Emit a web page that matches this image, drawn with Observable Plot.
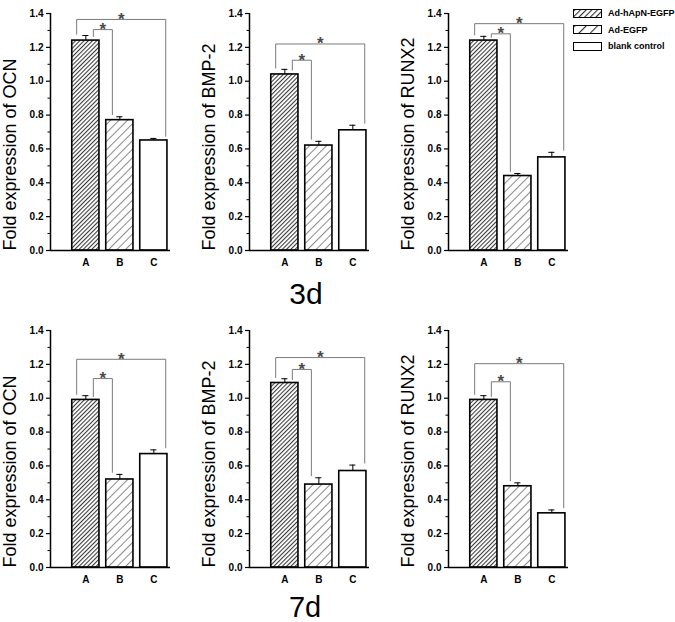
<!DOCTYPE html>
<html>
<head>
<meta charset="utf-8">
<script src="https://cdn.jsdelivr.net/npm/d3@7"></script>
<script src="https://cdn.jsdelivr.net/npm/@observablehq/plot@0.6"></script>
<style>
  html, body { margin: 0; padding: 0; background: white; }
  #wrap { position: relative; width: 675px; height: 622px; font-family: 'Liberation Sans', Arial, sans-serif; }
  #legend { position: absolute; left: 573px; top: 8px; font-size: 9px; font-weight: bold; color: #000; }
  .row { display: flex; align-items: center; height: 10px; margin-bottom: 6.5px; }
  .sw { width: 27px; height: 7px; border: 1.5px solid #000; margin-right: 6px; background: white; }
</style>
</head>
<body>
<svg width="0" height="0" style="position:absolute">
  <defs>
    <pattern id="hatchDense" patternUnits="userSpaceOnUse" width="3" height="3" patternTransform="rotate(45)">
      <rect width="3" height="3" fill="white"/>
      <line x1="0.5" y1="0" x2="0.5" y2="3" stroke="#3a3a3a" stroke-width="1.15"/>
    </pattern>
    <pattern id="hatchSparse" patternUnits="userSpaceOnUse" width="6" height="6" patternTransform="rotate(45)">
      <rect width="6" height="6" fill="white"/>
      <line x1="0.5" y1="0" x2="0.5" y2="6" stroke="#8a8a8a" stroke-width="1"/>
    </pattern>
    <pattern id="legDense" patternUnits="userSpaceOnUse" width="4" height="4" patternTransform="rotate(45)">
      <rect width="4" height="4" fill="white"/>
      <line x1="0.5" y1="0" x2="0.5" y2="4" stroke="#333" stroke-width="1.2"/>
    </pattern>
    <pattern id="legSparse" patternUnits="userSpaceOnUse" width="8" height="8" patternTransform="rotate(45)">
      <rect width="8" height="8" fill="white"/>
      <line x1="0.5" y1="0" x2="0.5" y2="8" stroke="#333" stroke-width="1.2"/>
    </pattern>
  </defs>
</svg>
<div id="wrap">
  <div id="chart"></div>
  <div id="legend"></div>
</div>
<script>
// ---- data ----
const genes = ["OCN", "BMP-2", "RUNX2"];
const days = ["3d", "7d"];
const groups = ["A", "B", "C"];
const legendLabels = ["Ad-hApN-EGFP", "Ad-EGFP", "blank control"];

const ocn3d = [1.24, 0.77, 0.65];
const bmp3d = [1.04, 0.62, 0.71];
const runx3d = [1.24, 0.44, 0.55];
const ocn7d = [0.99, 0.52, 0.67];
const bmp7d = [1.09, 0.49, 0.57];
const runx7d = [0.99, 0.48, 0.32];

const ocn3dErr = [0.03, 0.02, 0.012];
const bmp3dErr = [0.03, 0.025, 0.03];
const runx3dErr = [0.025, 0.015, 0.03];
const ocn7dErr = [0.025, 0.03, 0.025];
const bmp7dErr = [0.025, 0.04, 0.035];
const runx7dErr = [0.025, 0.02, 0.02];

// bracket heights (outer A–C, inner A–B) per gene
const outerLevel3d = [1.365, 1.22, 1.34];
const innerLevel3d = [1.305, 1.124, 1.28];
const outerLevel7d = [1.23, 1.24, 1.204];
const innerLevel7d = [1.116, 1.17, 1.097];

const yMajor = [0, 0.2, 0.4, 0.6, 0.8, 1.0, 1.2, 1.4];
const yMinor = [0.1, 0.3, 0.5, 0.7, 0.9, 1.1, 1.3];

// ---- styling constants ----
const barFills = ["url(#hatchDense)", "url(#hatchSparse)", "white"];
const legendFills = ["url(#legDense)", "url(#legSparse)", "white"];
const halfBar = 0.4;
const capHalf = 0.09;
const xDomain = [-1.04, 2.49];
const leg = {outerL: -0.27, outerR: 0.35, innerL: 0.22, innerR: -0.22};

// ---- build tables ----
const means = {"3d": [ocn3d, bmp3d, runx3d], "7d": [ocn7d, bmp7d, runx7d]};
const errs = {"3d": [ocn3dErr, bmp3dErr, runx3dErr], "7d": [ocn7dErr, bmp7dErr, runx7dErr]};
const outers = {"3d": outerLevel3d, "7d": outerLevel7d};
const inners = {"3d": innerLevel3d, "7d": innerLevel7d};

const bars = [];
const brackets = [];
const stars = [];
const titles = [];
for (const day of days) {
  genes.forEach((gene, g) => {
    const m = means[day][g], e = errs[day][g];
    groups.forEach((grp, i) => {
      bars.push({day, gene, i, grp, mean: m[i], err: e[i], top: m[i] + e[i], fill: barFills[i]});
    });
    const topA = m[0] + e[0], topB = m[1] + e[1], topC = m[2] + e[2];
    const oy = outers[day][g], iy = inners[day][g];
    const oid = day + gene + "o", iid = day + gene + "i";
    brackets.push(
      {day, gene, id: oid, x: 0 + leg.outerL, y: topA + 0.008},
      {day, gene, id: oid, x: 0 + leg.outerL, y: oy},
      {day, gene, id: oid, x: 2 + leg.outerR, y: oy},
      {day, gene, id: oid, x: 2 + leg.outerR, y: topC + 0.012},
      {day, gene, id: iid, x: 0 + leg.innerL, y: topA - 0.005},
      {day, gene, id: iid, x: 0 + leg.innerL, y: iy},
      {day, gene, id: iid, x: 1 + leg.innerR, y: iy},
      {day, gene, id: iid, x: 1 + leg.innerR, y: topB + 0.012}
    );
    stars.push(
      {day, gene, x: (leg.outerL + 2 + leg.outerR) / 2, y: oy},
      {day, gene, x: (leg.innerL + 1 + leg.innerR) / 2, y: iy}
    );
    titles.push({day, gene, label: "Fold expression of " + gene});
  });
}

const chart = Plot.plot({
  width: 675,
  height: 622,
  marginLeft: 50,
  marginRight: 107,
  marginTop: 12,
  marginBottom: 54.5,
  style: {fontFamily: "'Liberation Sans', Arial, sans-serif", color: "black", background: "white"},
  fx: {domain: genes, paddingInner: 0.397, paddingOuter: 0, axis: null, label: null},
  fy: {domain: days, paddingInner: 0.253, paddingOuter: 0, axis: null, label: null},
  x: {domain: xDomain},
  y: {domain: [0, 1.4]},
  color: {type: "identity"},
  marks: [
    Plot.rect(bars, {fx: "gene", fy: "day", x1: d => d.i - halfBar, x2: d => d.i + halfBar, y1: 0, y2: "mean",
      fill: "fill", stroke: "black", strokeWidth: 1.6}),
    Plot.ruleX(bars, {fx: "gene", fy: "day", x: "i", y1: "mean", y2: "top", stroke: "black", strokeWidth: 1}),
    Plot.ruleY(bars, {fx: "gene", fy: "day", y: "top", x1: d => d.i - capHalf, x2: d => d.i + capHalf, stroke: "black", strokeWidth: 1}),
    Plot.line(brackets, {fx: "gene", fy: "day", x: "x", y: "y", z: "id", stroke: "#7a7a7a", strokeWidth: 1}),
    Plot.text(stars, {fx: "gene", fy: "day", x: "x", y: "y", text: () => "*", fontSize: 17, fontWeight: "bold",
      fill: "#4a4a4a", lineAnchor: "bottom", dy: 5.5}),
    Plot.ruleX([xDomain[0]], {y1: 0, y2: 1.4, stroke: "black", strokeWidth: 1.5}),
    Plot.ruleY([0], {stroke: "black", strokeWidth: 1.5}),
    Plot.axisY({ticks: yMajor, tickFormat: d3.format(".1f"), tickSize: 4, tickPadding: 3, fontSize: 10,
      fontWeight: "bold", label: null, facetAnchor: null, strokeWidth: 1.2}),
    Plot.axisY({ticks: yMinor, tickSize: 2.5, text: null, label: null, facetAnchor: null, strokeWidth: 1}),
    Plot.axisX({ticks: [0, 1, 2], tickFormat: i => groups[i], tickSize: 0, tickPadding: 8, fontSize: 10,
      fontWeight: "bold", label: null, facetAnchor: null}),
    Plot.text(titles, {fx: "gene", fy: "day", text: "label", frameAnchor: "bottom-left", rotate: -90,
      textAnchor: "start", lineAnchor: "middle", dx: -40, fontSize: 18}),
    Plot.text([{gene: "BMP-2", day: "3d"}], {fx: "gene", fy: "day", text: "day", frameAnchor: "bottom",
      lineAnchor: "bottom", dx: -3.5, dy: 53.5, fontSize: 30}),
    Plot.text([{gene: "BMP-2", day: "7d"}], {fx: "gene", fy: "day", text: "day", frameAnchor: "bottom",
      lineAnchor: "middle", dx: -4.5, dy: 40, fontSize: 29})
  ]
});
document.getElementById("chart").appendChild(chart);

const legendDiv = document.getElementById("legend");
legendLabels.forEach((lab, i) => {
  const row = document.createElement("div");
  row.className = "row";
  const sw = document.createElement("div");
  sw.className = "sw";
  sw.innerHTML = `<svg width="27" height="7"><rect width="27" height="7" fill="${legendFills[i]}"/></svg>`;
  sw.style.lineHeight = "0";
  const t = document.createElement("span");
  t.textContent = lab;
  row.appendChild(sw);
  row.appendChild(t);
  legendDiv.appendChild(row);
});
</script>
</body>
</html>
